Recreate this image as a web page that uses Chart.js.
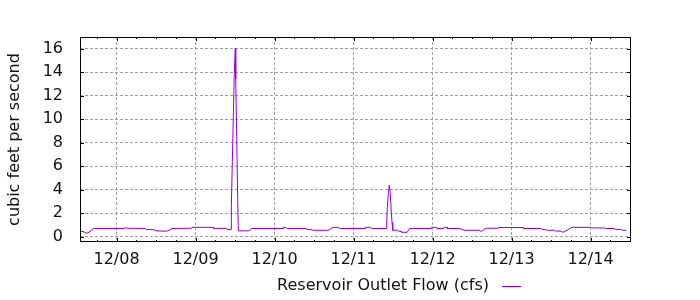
<!DOCTYPE html>
<html>
<head>
<meta charset="utf-8">
<script src="https://cdn.jsdelivr.net/npm/chart.js@4"></script>
<style>
  html, body { margin: 0; padding: 0; background: #fff; }
  canvas { display: block; }
</style>
</head>
<body>
<canvas id="flowChart" width="700" height="300"></canvas>
<script>
  // hours since 12/08 00:00
  const hours = [
    -11.09, -10.18, -9.11, -8.66, -6.99, 2.43, 2.58, 3.49, 8.66, 9.11,
    11.39, 12.0, 14.73, 15.65, 16.86, 22.79, 22.94, 29.41, 29.5, 33.48,
    33.57, 34.78, 34.88, 35.18, 35.48, 35.79, 36.09, 36.21, 36.52, 36.82,
    37.0, 40.16, 40.65, 41.01, 50.58, 50.73, 51.59, 51.8, 57.66, 57.87,
    59.39, 59.7, 64.25, 65.77, 67.5, 67.75, 75.49, 75.65, 77.23, 77.41,
    81.96, 82.09, 82.27, 82.57, 82.88, 83.18, 83.49, 83.70, 83.91, 85.43,
    85.58, 86.43, 86.58, 88.34, 88.86, 89.16, 95.54, 95.70, 97.22, 97.37,
    99.34, 99.50, 100.41, 100.56, 104.26, 105.57, 110.34, 110.83, 111.65, 112.35,
    115.9, 116.05, 123.5, 123.65, 129.05, 129.27, 130.57, 130.78, 133.13, 133.37,
    134.95, 135.65, 137.17, 138.38, 144.06, 144.21, 148.31, 148.47, 151.35, 151.5,
    153.36, 153.57, 154.88
  ];
  const flow = [
    0.45, 0.45, 0.3, 0.33, 0.7, 0.7, 0.77, 0.72, 0.7, 0.6,
    0.6, 0.5, 0.47, 0.5, 0.7, 0.72, 0.8, 0.8, 0.71, 0.71,
    0.6, 0.6, 2.55, 6.4, 10.2, 14.1, 16.05, 13.45, 8.3, 3.1,
    0.5, 0.5, 0.6, 0.7, 0.7, 0.8, 0.78, 0.7, 0.7, 0.6,
    0.6, 0.55, 0.55, 0.8, 0.8, 0.7, 0.7, 0.8, 0.8, 0.7,
    0.7, 1.33, 2.5, 3.68, 4.39, 3.68, 2.0, 1.2, 0.55, 0.55,
    0.47, 0.47, 0.38, 0.38, 0.65, 0.7, 0.7, 0.8, 0.8, 0.7,
    0.7, 0.8, 0.8, 0.7, 0.7, 0.55, 0.55, 0.43, 0.63, 0.72,
    0.72, 0.78, 0.78, 0.7, 0.7, 0.6, 0.6, 0.55, 0.55, 0.48,
    0.48, 0.37, 0.6, 0.8, 0.8, 0.75, 0.75, 0.7, 0.7, 0.62,
    0.62, 0.55, 0.55
  ];
  const xTickHours = [0, 24, 48, 72, 96, 120, 144];
  const xTickLabels = ['12/08', '12/09', '12/10', '12/11', '12/12', '12/13', '12/14'];
  const yTicks = [0, 2, 4, 6, 8, 10, 12, 14, 16];
  const seriesLabel = 'Reservoir Outlet Flow (cfs)';

  const FONT = { family: 'DejaVu Sans', size: 16 };
  const LINE_COLOR = '#9400d3';
  const TEXT_COLOR = '#111';

  const framePlugin = {
    id: 'frame',
    afterDraw(chart) {
      const ctx = chart.ctx;
      const area = chart.chartArea;
      const xs = chart.scales.x;
      const ys = chart.scales.y;
      ctx.save();
      ctx.strokeStyle = '#000';
      ctx.lineWidth = 1;
      ctx.setLineDash([]);
      ctx.strokeRect(area.left + 0.5, area.top + 0.5, area.right - area.left - 1, area.bottom - area.top - 1);

      ctx.beginPath();
      for (let h = -6; h <= 156; h += 6) {
        const px = Math.round(xs.getPixelForValue(h)) + 0.5;
        const len = xTickHours.indexOf(h) >= 0 ? 4 : 2;
        ctx.moveTo(px, area.bottom);
        ctx.lineTo(px, area.bottom - len);
        ctx.moveTo(px, area.top);
        ctx.lineTo(px, area.top + len);
      }
      yTicks.forEach(function (v) {
        const py = Math.round(ys.getPixelForValue(v)) + 0.5;
        ctx.moveTo(area.left, py);
        ctx.lineTo(area.left + 4, py);
        ctx.moveTo(area.right, py);
        ctx.lineTo(area.right - 4, py);
      });
      ctx.stroke();

      // key
      ctx.font = FONT.size + 'px ' + FONT.family;
      ctx.fillStyle = TEXT_COLOR;
      ctx.textAlign = 'right';
      ctx.textBaseline = 'middle';
      ctx.fillText(chart.data.datasets[0].label, 489, 286);
      ctx.strokeStyle = LINE_COLOR;
      ctx.beginPath();
      ctx.moveTo(502, 286.5);
      ctx.lineTo(521, 286.5);
      ctx.stroke();
      ctx.restore();
    }
  };

  new Chart(document.getElementById('flowChart'), {
    type: 'line',
    data: {
      datasets: [{
        label: seriesLabel,
        data: hours.map(function (h, i) { return { x: h, y: flow[i] }; }),
        borderColor: LINE_COLOR,
        borderWidth: 1,
        pointRadius: 0,
        tension: 0,
        fill: false
      }]
    },
    options: {
      responsive: false,
      animation: false,
      devicePixelRatio: 1,
      layout: { padding: { left: 0, right: 69, top: 37, bottom: 0 } },
      plugins: {
        legend: { display: false },
        tooltip: { enabled: false }
      },
      scales: {
        x: {
          type: 'linear',
          min: -11.1,
          max: 156.3,
          afterFit: function (scale) { scale.height = 58; },
          afterBuildTicks: function (scale) {
            scale.ticks = xTickHours.map(function (v) { return { value: v }; });
          },
          ticks: {
            font: FONT,
            color: TEXT_COLOR,
            padding: 8,
            maxRotation: 0,
            autoSkip: false,
            callback: function (value) {
              const i = xTickHours.indexOf(value);
              return i >= 0 ? xTickLabels[i] : '';
            }
          },
          grid: { color: '#a0a0a0', lineWidth: 1, drawTicks: false },
          border: { display: false, dash: [3, 2] }
        },
        y: {
          type: 'linear',
          min: -0.45,
          max: 17,
          afterFit: function (scale) { scale.width = 80; },
          afterBuildTicks: function (scale) {
            scale.ticks = yTicks.map(function (v) { return { value: v }; });
          },
          ticks: {
            font: FONT,
            color: TEXT_COLOR,
            padding: 17
          },
          title: {
            display: true,
            text: 'cubic feet per second',
            font: FONT,
            color: TEXT_COLOR,
            padding: { top: 5, bottom: 0 }
          },
          grid: { color: '#a0a0a0', lineWidth: 1, drawTicks: false },
          border: { display: false, dash: [3, 2] }
        }
      }
    },
    plugins: [framePlugin]
  });
</script>
</body>
</html>
